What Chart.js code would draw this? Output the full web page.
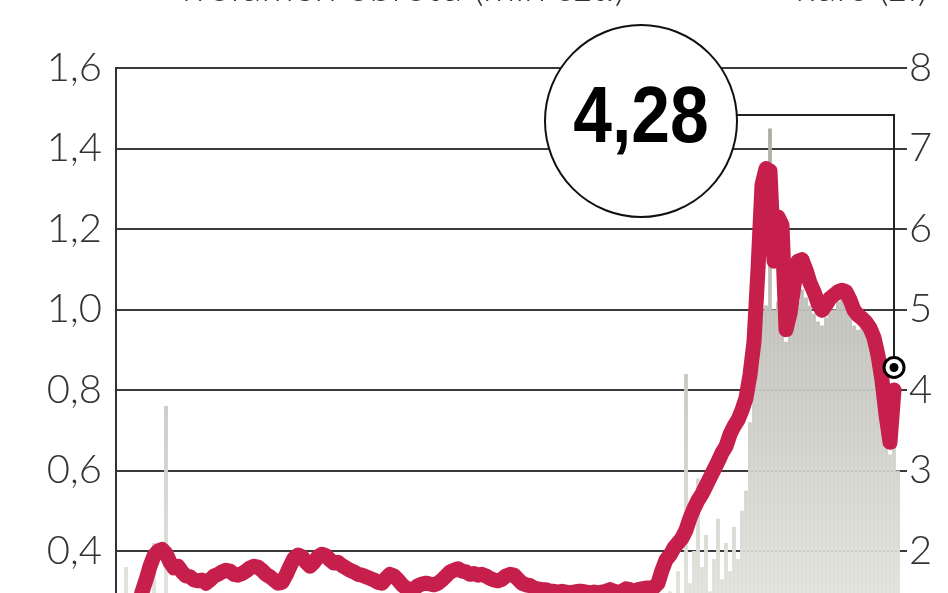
<!DOCTYPE html>
<html><head><meta charset="utf-8">
<script src="https://cdn.jsdelivr.net/npm/chart.js@4/dist/chart.umd.min.js"></script>
<style>
html,body{margin:0;padding:0;background:#fff;overflow:hidden;width:948px;height:593px}
#wrap{position:absolute;left:0;top:-30px;width:948px;height:780px}
</style></head><body>
<div id="wrap"><canvas id="c"></canvas></div>
<script>
// price (zł), one value per session
const price = [null,null,null,null,null,1.30,1.49,1.64,1.81,1.94,
2.00,2.02,1.97,1.86,1.79,1.81,1.74,1.69,1.68,1.64,
1.63,1.64,1.60,1.64,1.69,1.71,1.74,1.76,1.75,1.71,
1.70,1.72,1.75,1.79,1.81,1.80,1.76,1.71,1.68,1.64,
1.60,1.61,1.70,1.81,1.91,1.95,1.93,1.86,1.81,1.86,
1.93,1.96,1.94,1.89,1.85,1.86,1.82,1.79,1.76,1.74,
1.71,1.70,1.68,1.66,1.64,1.61,1.60,1.66,1.71,1.69,
1.64,1.58,1.54,1.52,1.53,1.57,1.59,1.60,1.59,1.58,
1.60,1.64,1.69,1.74,1.76,1.78,1.75,1.74,1.71,1.72,
1.70,1.71,1.69,1.66,1.64,1.63,1.65,1.69,1.71,1.70,
1.65,1.60,1.58,1.57,1.54,1.53,1.52,1.52,1.50,1.50,
1.49,1.50,1.49,1.48,1.49,1.50,1.50,1.49,1.48,1.49,
1.48,1.49,1.50,1.52,1.50,1.49,1.50,1.53,1.52,1.50,
1.52,1.53,1.54,1.54,1.55,1.60,1.76,1.89,1.95,2.04,
2.10,2.16,2.26,2.41,2.53,2.63,2.71,2.81,2.91,3.01,
3.11,3.22,3.30,3.45,3.55,3.63,3.75,3.90,4.19,4.60,
5.50,6.55,6.75,6.72,5.60,6.15,6.05,4.75,4.95,5.30,
5.60,5.62,5.49,5.33,5.22,5.08,4.99,5.06,5.14,5.18,
5.22,5.24,5.22,5.12,4.99,4.93,4.89,4.84,4.77,4.65,
4.43,4.12,3.69,3.35,4.00,null];
// volume (mln), one value per session
const volume = [0.12,0.18,0.36,0.10,0.14,0.22,0.15,0.26,0.20,0.42,
0.24,0.18,0.76,0.20,0.15,0.12,0.10,0.14,0.09,0.11,
0.16,0.08,0.10,0.13,0.07,0.09,0.12,0.10,0.06,0.08,
0.11,0.09,0.14,0.10,0.07,0.08,0.12,0.09,0.06,0.10,
0.08,0.13,0.17,0.12,0.20,0.15,0.11,0.09,0.10,0.14,
0.12,0.16,0.10,0.08,0.07,0.09,0.06,0.08,0.07,0.05,
0.09,0.06,0.07,0.05,0.08,0.06,0.10,0.12,0.09,0.07,
0.06,0.05,0.07,0.06,0.05,0.08,0.06,0.05,0.07,0.06,
0.09,0.11,0.13,0.10,0.12,0.09,0.07,0.08,0.06,0.07,
0.05,0.06,0.08,0.05,0.06,0.07,0.09,0.10,0.08,0.06,
0.05,0.04,0.06,0.05,0.04,0.05,0.03,0.04,0.05,0.03,
0.04,0.03,0.05,0.04,0.03,0.04,0.05,0.03,0.04,0.03,
0.05,0.04,0.06,0.05,0.04,0.06,0.05,0.07,0.05,0.06,
0.08,0.07,0.09,0.10,0.12,0.18,0.22,0.26,0.30,0.22,
0.35,0.28,0.84,0.32,0.40,0.58,0.36,0.44,0.30,0.38,
0.48,0.33,0.42,0.35,0.46,0.38,0.50,0.55,0.72,0.85,
0.98,1.00,1.01,1.45,1.00,1.02,0.99,0.92,0.95,0.98,
1.02,1.05,1.03,1.01,0.99,0.97,0.96,0.98,1.00,1.00,
1.02,1.03,1.02,1.00,0.96,0.95,0.96,0.95,0.93,0.90,
0.85,0.79,0.70,0.64,0.66,0.60];
const sessions = price.map((_, i) => i + 1);
const lastClose = 4.28;
const volumeTicks = [0.4, 0.6, 0.8, 1.0, 1.2, 1.4, 1.6];
const priceTicks = [2, 3, 4, 5, 6, 7, 8];
const headerLeft = 'wolumen obrotu (mln szt.)';
const headerRight = 'kurs (zł)';

const fmt = (v, d) => v.toFixed(d).replace('.', ',');
const lastIdx = price.reduce((a, v, i) => v !== null ? i : a, 0);

const annotate = {
  id: 'annotate',
  afterDatasetsDraw(chart) {
    const {ctx, chartArea: a, scales} = chart;
    const mx = scales.x.getPixelForValue(lastIdx);
    const my = scales.y1.getPixelForValue(lastClose);
    const cx = a.left + 525, cy = a.top + 53, r = 96;
    ctx.save();
    ctx.strokeStyle = '#222'; ctx.lineWidth = 2;
    ctx.beginPath(); ctx.moveTo(cx, a.top + 47); ctx.lineTo(mx, a.top + 47); ctx.lineTo(mx, my); ctx.stroke();
    ctx.beginPath(); ctx.arc(cx, cy, r, 0, Math.PI * 2);
    ctx.fillStyle = '#fff'; ctx.fill(); ctx.lineWidth = 2; ctx.strokeStyle = '#111'; ctx.stroke();
    ctx.save();
    ctx.translate(cx, a.top + 74); ctx.scale(0.87, 1);
    ctx.font = 'bold 80px "Liberation Sans"'; ctx.textAlign = 'center'; ctx.textBaseline = 'alphabetic';
    ctx.fillStyle = '#000'; ctx.fillText(fmt(lastClose, 2), 0, 0);
    ctx.restore();
    ctx.beginPath(); ctx.arc(mx, my, 10, 0, Math.PI * 2);
    ctx.fillStyle = '#fff'; ctx.fill(); ctx.lineWidth = 3; ctx.strokeStyle = '#000'; ctx.stroke();
    ctx.beginPath(); ctx.arc(mx, my, 4.5, 0, Math.PI * 2); ctx.fillStyle = '#000'; ctx.fill();
    ctx.font = '300 40px Lato, "Liberation Sans"'; ctx.fillStyle = '#333'; ctx.textAlign = 'right'; ctx.textBaseline = 'alphabetic';
    ctx.fillText(headerLeft, 625, 31);
    ctx.fillText(headerRight, 928, 31);
    ctx.restore();
  }
};

const tickFont = {family: 'Lato, "Liberation Sans"', size: 40, weight: 300};
new Chart(document.getElementById('c'), {
  data: {
    labels: sessions,
    datasets: [
      {type: 'line', label: 'kurs (zł)', data: price, yAxisID: 'y1', order: 0,
       borderColor: '#c71f4b', borderWidth: 15, pointRadius: 0, tension: 0,
       borderJoinStyle: 'round', borderCapStyle: 'round', spanGaps: false},
      {type: 'bar', label: 'wolumen (mln szt.)', data: volume, yAxisID: 'y', order: 1,
       barPercentage: 0.95, categoryPercentage: 1,
       backgroundColor: (c) => {
         const a = c.chart.chartArea; if (!a) return '#ccc';
         const g = c.chart.ctx.createLinearGradient(0, a.top, 0, a.bottom);
         g.addColorStop(0, '#a6a69e'); g.addColorStop(1, '#efefea'); return g;
       }}
    ]
  },
  options: {
    responsive: true, maintainAspectRatio: false, animation: false, devicePixelRatio: 1,
    layout: {padding: {top: 98, bottom: 24, left: 0, right: 0}},
    plugins: {legend: {display: false}, tooltip: {enabled: false}},
    scales: {
      x: {type: 'category', display: false, offset: true},
      y: {position: 'left', min: 0, max: 1.6,
          afterBuildTicks: s => { s.ticks = volumeTicks.map(v => ({value: v})); },
          afterFit: s => { s.width = 116; },
          ticks: {font: tickFont, color: '#333', padding: 14, callback: v => fmt(v, 1)},
          grid: {color: '#3a3a3a', lineWidth: 2, drawTicks: false},
          border: {display: true, color: '#333', width: 2}},
      y1: {position: 'right', min: 0, max: 8,
           afterBuildTicks: s => { s.ticks = priceTicks.map(v => ({value: v})); },
           afterFit: s => { s.width = 48; },
           ticks: {font: tickFont, color: '#333', padding: 2, callback: v => String(v)},
           grid: {drawOnChartArea: false, drawTicks: true, tickLength: 7, color: '#3a3a3a', lineWidth: 2},
           border: {display: false}}
    }
  },
  plugins: [annotate]
});
</script>
</body></html>
